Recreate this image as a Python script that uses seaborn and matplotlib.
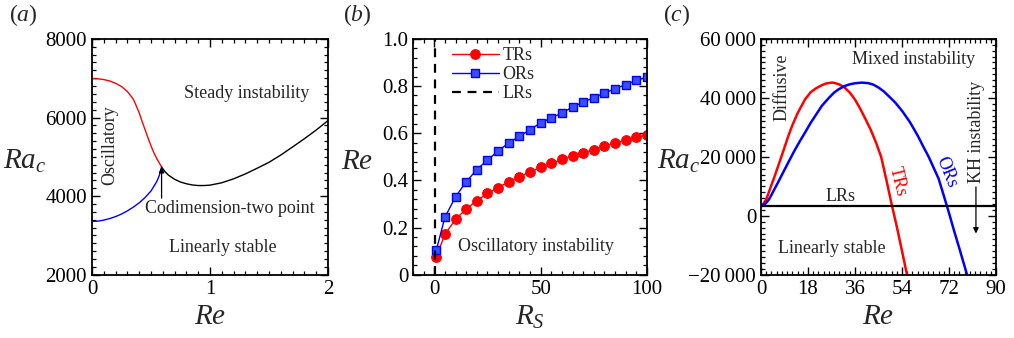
import numpy as np
import pandas as pd
import matplotlib
matplotlib.use("Agg")
import matplotlib.pyplot as plt
from matplotlib.ticker import MultipleLocator
import seaborn as sns

# ---------------- data ----------------
a_osc_re = [0.0, 0.05, 0.1, 0.15, 0.2, 0.25, 0.3, 0.35, 0.375, 0.4, 0.425, 0.45, 0.475,
            0.5, 0.525, 0.55, 0.575, 0.59]
a_osc_ra = [6990, 6985, 6965, 6930, 6870, 6790, 6660, 6470, 6300, 6120, 5900, 5690, 5480,
            5280, 5100, 4950, 4820, 4740]
a_low_re = [0.0, 0.05, 0.1, 0.15, 0.2, 0.25, 0.3, 0.35, 0.4, 0.45, 0.5, 0.55, 0.57, 0.59]
a_low_ra = [3357, 3365, 3390, 3430, 3480, 3545, 3625, 3720, 3830, 3965, 4130, 4375, 4520, 4740]
a_std_re = [0.59, 0.62, 0.65, 0.7, 0.75, 0.8, 0.85, 0.9, 0.95, 1.0, 1.1, 1.2, 1.3, 1.4, 1.5,
            1.6, 1.7, 1.8, 1.9, 2.0]
a_std_ra = [4740, 4620, 4530, 4430, 4360, 4315, 4285, 4270, 4270, 4280, 4340, 4440, 4565,
            4710, 4860, 5045, 5250, 5460, 5680, 5920]

b_rs = [1, 5, 10, 15, 20, 25, 30, 35, 40, 45, 50, 55, 60, 65, 70, 75, 80, 85, 90, 95, 100]
b_trs = [0.077, 0.172, 0.235, 0.279, 0.314, 0.345, 0.370, 0.394, 0.415, 0.437, 0.455,
         0.472, 0.489, 0.503, 0.517, 0.531, 0.546, 0.559, 0.570, 0.582, 0.594]
b_ors = [0.106, 0.244, 0.331, 0.394, 0.446, 0.486, 0.525, 0.559, 0.587, 0.615, 0.644,
         0.665, 0.686, 0.711, 0.732, 0.751, 0.770, 0.789, 0.806, 0.824, 0.838]
b_lrs_rs = 0.5

c_trs_re = [0, 1, 2, 3, 4, 5, 7, 9, 10.5, 12, 14, 16.9, 19, 21, 23.3, 25, 27, 28, 30, 32,
            34, 36, 38, 40, 42, 44, 46, 48, 50, 52, 54, 55.9]
c_trs_ra = [3200, 4200, 5600, 8000, 10500, 12900, 18000, 23200, 27200, 30700, 34800, 39550,
            41900, 43200, 44300, 44900, 45170, 45100, 44550, 43500, 41800, 39400, 36300,
            32800, 29200, 24900, 20000, 12200, 4000, -3700, -12000, -20000]
c_ors_re = [0, 1, 2, 3, 4, 5, 6.6, 8, 10.5, 13, 15, 16.9, 19, 21, 23.3, 26, 28, 29.7, 32,
            34, 36, 38.6, 41, 43, 45, 47, 49, 51.4, 54, 57, 60, 62, 64.2, 66, 68, 70, 72,
            74, 76, 78.9]
c_ors_ra = [3200, 3700, 4400, 5500, 7100, 8800, 11460, 13900, 18200, 22400, 25500, 28300,
            31500, 34200, 37300, 40000, 41800, 42900, 44000, 44600, 44950, 45170, 45000,
            44500, 43500, 42200, 40500, 38400, 35600, 31800, 27200, 23700, 20000, 16500,
            12600, 6800, 900, -5300, -11200, -20000]
c_lrs_ra = 3200

c_yticks = [-20000, 0, 20000, 40000, 60000]
c_ytick_labels = ["\u221220\u2009000", "0", "20\u2009000", "40\u2009000", "60\u2009000"]
c_xticks = [0, 18, 36, 54, 72, 90]
b_yticks = [0, 0.2, 0.4, 0.6, 0.8, 1.0]
b_ytick_labels = ["0", "0.2", "0.4", "0.6", "0.8", "1.0"]

# ---------------- style ----------------
sns.set_theme(style="ticks")
plt.rcParams["font.family"] = ["Liberation Serif", "DejaVu Serif"]
plt.rcParams["mathtext.fontset"] = "custom"
plt.rcParams["mathtext.rm"] = "Liberation Serif"
plt.rcParams["mathtext.it"] = "Liberation Serif:italic"

RED = "#ff0000"
BLUE = "#0000ff"
TICK_FS = 15
LAB_FS = 21
ANN_FS = 13

fig = plt.figure(figsize=(10.14, 3.38), dpi=100)
axa = fig.add_axes([0.0907, 0.187, 0.2327, 0.698])
axb = fig.add_axes([0.4073, 0.187, 0.2308, 0.698])
axc = fig.add_axes([0.7505, 0.187, 0.2318, 0.698])

# ---------------- panel (a) ----------------
sns.lineplot(x=a_osc_re, y=a_osc_ra, ax=axa, color=RED, lw=1.0, sort=False, estimator=None)
sns.lineplot(x=a_low_re, y=a_low_ra, ax=axa, color=BLUE, lw=1.0, sort=False, estimator=None)
sns.lineplot(x=a_std_re, y=a_std_ra, ax=axa, color="black", lw=1.0, sort=False, estimator=None)
axa.set_xlim(0, 2)
axa.set_ylim(2000, 8000)
axa.set_xticks([0, 1, 2])
axa.set_yticks([2000, 4000, 6000, 8000])
axa.xaxis.set_minor_locator(MultipleLocator(0.1))
axa.yaxis.set_minor_locator(MultipleLocator(200))
axa.set_xlabel("$Re$", fontsize=LAB_FS, labelpad=4)
axa.set_ylabel("$Ra_c$", fontsize=LAB_FS, rotation=0, va="center")
axa.yaxis.set_label_coords(-0.285, 0.48)
axa.text(1.31, 6600, "Steady instability", fontsize=ANN_FS, ha="center", va="center")
axa.text(0.15, 5300, "Oscillatory", fontsize=ANN_FS, ha="center", va="center", rotation=90)
axa.text(1.17, 3680, "Codimension-two point", fontsize=ANN_FS, ha="center", va="center")
axa.text(1.11, 2690, "Linearly stable", fontsize=ANN_FS, ha="center", va="center")
axa.annotate("", xy=(0.59, 4740), xytext=(0.59, 3950),
             arrowprops=dict(arrowstyle="-|>", color="black", lw=0.9, mutation_scale=8,
                             shrinkA=0, shrinkB=0))
fig.text(0.009, 0.955, "$(a)$", fontsize=17, ha="left", va="center")

# ---------------- panel (b) ----------------
dfb = pd.DataFrame({"Rs": b_rs, "TRs": b_trs, "ORs": b_ors})
sns.lineplot(data=dfb, x="Rs", y="TRs", ax=axb, color=RED, lw=1.0, marker="o",
             markersize=7, markeredgecolor=RED, markerfacecolor=RED, label="TRs")
sns.lineplot(data=dfb, x="Rs", y="ORs", ax=axb, color=BLUE, lw=1.0, marker="s",
             markersize=5.5, markeredgecolor=BLUE, markerfacecolor="#3a4dff",
             markeredgewidth=1.0, label="ORs")
axb.axvline(b_lrs_rs, color="black", lw=1.6, ls=(0, (4, 3)), label="LRs")
axb.set_xlim(-10, 100)
axb.set_ylim(0, 1.0)
axb.set_xticks([0, 50, 100])
axb.set_yticks(b_yticks)
axb.set_yticklabels(b_ytick_labels)
axb.xaxis.set_minor_locator(MultipleLocator(5))
axb.yaxis.set_minor_locator(MultipleLocator(0.04))
axb.set_xlabel("$R_S$", fontsize=LAB_FS, labelpad=4)
axb.set_ylabel("$Re$", fontsize=LAB_FS, rotation=0, va="center")
axb.yaxis.set_label_coords(-0.24, 0.48)
axb.text(47.6, 0.118, "Oscillatory instability", fontsize=ANN_FS, ha="center", va="center")
axb.legend(loc="upper left", bbox_to_anchor=(0.12, 1.01), frameon=False,
           fontsize=13, handlelength=2.6, handletextpad=0.2, labelspacing=0.1,
           borderaxespad=0.2)
fig.text(0.338, 0.955, "$(b)$", fontsize=17, ha="left", va="center")

# ---------------- panel (c) ----------------
sns.lineplot(x=c_trs_re, y=c_trs_ra, ax=axc, color=RED, lw=1.8, sort=False, estimator=None)
sns.lineplot(x=c_ors_re, y=c_ors_ra, ax=axc, color=BLUE, lw=1.8, sort=False, estimator=None)
axc.axhline(c_lrs_ra, color="black", lw=1.6)
axc.set_xlim(0, 90)
axc.set_ylim(-20000, 60000)
axc.set_xticks(c_xticks)
axc.set_yticks(c_yticks)
axc.set_yticklabels(c_ytick_labels)
axc.xaxis.set_minor_locator(MultipleLocator(2))
axc.yaxis.set_minor_locator(MultipleLocator(2000))
axc.set_xlabel("$Re$", fontsize=LAB_FS, labelpad=4)
axc.set_ylabel("$Ra_c$", fontsize=LAB_FS, rotation=0, va="center")
axc.yaxis.set_label_coords(-0.35, 0.48)
axc.text(7.9, 43500, "Diffusive", fontsize=ANN_FS, ha="center", va="center", rotation=90)
axc.text(58.3, 53000, "Mixed instability", fontsize=ANN_FS, ha="center", va="center")
axc.text(82.5, 28300, "KH instability", fontsize=ANN_FS, ha="center", va="center", rotation=90)
axc.text(30.3, 6700, "LRs", fontsize=ANN_FS, ha="center", va="center")
axc.text(27.0, -11000, "Linearly stable", fontsize=ANN_FS, ha="center", va="center")
axc.text(52.2, 11500, "TRs", fontsize=ANN_FS, ha="center", va="center", rotation=-76, color=RED)
axc.text(71.0, 14800, "ORs", fontsize=ANN_FS, ha="center", va="center", rotation=-68, color=BLUE)
axc.annotate("", xy=(82.3, -6000), xytext=(82.3, 9800),
             arrowprops=dict(arrowstyle="-|>", color="black", lw=0.9, mutation_scale=8,
                             shrinkA=0, shrinkB=0))
fig.text(0.654, 0.955, "$(c)$", fontsize=17, ha="left", va="center")

# ticks and frames last
for ax in (axa, axb, axc):
    ax.tick_params(which="both", direction="in", top=True, right=True, colors="black",
                   labelsize=TICK_FS)
    ax.tick_params(which="major", length=6, width=1.0)
    ax.tick_params(which="minor", length=3, width=0.9)
    for s in ax.spines.values():
        s.set_visible(True)
        s.set_color("black")
        s.set_linewidth(1.3)

fig.savefig("out.png", dpi=100)
